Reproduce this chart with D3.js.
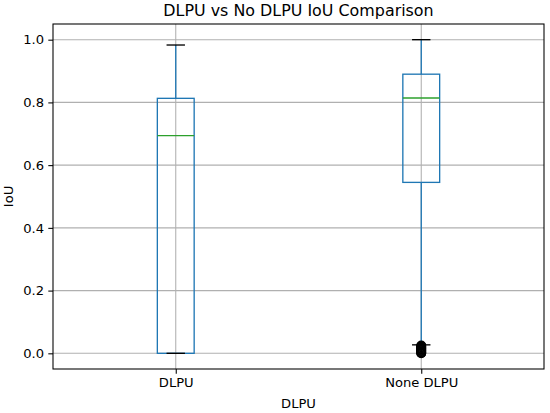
<!DOCTYPE html>
<html>
<head>
<meta charset="utf-8">
<script src="https://cdn.jsdelivr.net/npm/d3@7"></script>
<style>
  body { margin: 0; background: #fff; }
  #chart { width: 550px; height: 413px; }
  text { font-family: "DejaVu Sans", sans-serif; fill: #000; }
</style>
</head>
<body>
<div id="chart"></div>
<script>
// Data
const categories = ["DLPU", "None DLPU"];
const whiskerLow = [0.0, 0.027];
const q1 = [0.0, 0.545];
const median = [0.694, 0.814];
const q3 = [0.813, 0.89];
const whiskerHigh = [0.983, 1.0];
const outliers = [
    [],
    [0.025, 0.023, 0.021, 0.019, 0.017, 0.015, 0.013, 0.011, 0.009, 0.007, 0.005, 0.003, 0.001, 0.0]
];
const yTicks = [0.0, 0.2, 0.4, 0.6, 0.8, 1.0];

const width = 550;
const height = 413;
const margin = {top: 24, left: 53, right: 6, bottom: 44};

const svg = d3.select("#chart")
    .append("svg")
    .attr("width", width)
    .attr("height", height);

// Scales
const xScale = d3.scaleLinear()
    .domain([0.5, 2.5])
    .range([margin.left, width - margin.right]);

const yScale = d3.scaleLinear()
    .domain([-0.05, 1.05])
    .range([height - margin.bottom, margin.top]);

const boxW = xScale(0.15) - xScale(0);
const capW = boxW / 2;
const lw = 1.33;

// Grid
svg.append("g")
    .selectAll("line")
    .data(yTicks)
    .enter()
    .append("line")
        .attr("x1", margin.left)
        .attr("x2", width - margin.right)
        .attr("y1", d => yScale(d))
        .attr("y2", d => yScale(d))
        .attr("stroke", "#b0b0b0")
        .attr("stroke-width", 1.07);

svg.append("g")
    .selectAll("line")
    .data(categories)
    .enter()
    .append("line")
        .attr("x1", (d, i) => xScale(i + 1))
        .attr("x2", (d, i) => xScale(i + 1))
        .attr("y1", margin.top)
        .attr("y2", height - margin.bottom)
        .attr("stroke", "#b0b0b0")
        .attr("stroke-width", 1.07);

// Boxes
const boxes = svg.append("g")
    .selectAll("g")
    .data(categories)
    .enter()
    .append("g");

// whiskers
boxes.append("line")
    .attr("x1", (d, i) => xScale(i + 1))
    .attr("x2", (d, i) => xScale(i + 1))
    .attr("y1", (d, i) => yScale(q1[i]))
    .attr("y2", (d, i) => yScale(whiskerLow[i]))
    .attr("stroke", "#1f77b4")
    .attr("stroke-width", lw);

boxes.append("line")
    .attr("x1", (d, i) => xScale(i + 1))
    .attr("x2", (d, i) => xScale(i + 1))
    .attr("y1", (d, i) => yScale(q3[i]))
    .attr("y2", (d, i) => yScale(whiskerHigh[i]))
    .attr("stroke", "#1f77b4")
    .attr("stroke-width", lw);

boxes.append("rect")
    .attr("x", (d, i) => xScale(i + 1) - boxW / 2)
    .attr("y", (d, i) => yScale(q3[i]))
    .attr("width", boxW)
    .attr("height", (d, i) => yScale(q1[i]) - yScale(q3[i]))
    .attr("fill", "none")
    .attr("stroke", "#1f77b4")
    .attr("stroke-width", lw);

// caps
[whiskerLow, whiskerHigh].forEach(function(arr) {
    boxes.append("line")
        .attr("x1", (d, i) => xScale(i + 1) - capW / 2)
        .attr("x2", (d, i) => xScale(i + 1) + capW / 2)
        .attr("y1", (d, i) => yScale(arr[i]))
        .attr("y2", (d, i) => yScale(arr[i]))
        .attr("stroke", "#000")
        .attr("stroke-width", lw);
});

// medians
boxes.append("line")
    .attr("x1", (d, i) => xScale(i + 1) - boxW / 2)
    .attr("x2", (d, i) => xScale(i + 1) + boxW / 2)
    .attr("y1", (d, i) => yScale(median[i]))
    .attr("y2", (d, i) => yScale(median[i]))
    .attr("stroke", "#2ca02c")
    .attr("stroke-width", lw);

// fliers
boxes.each(function(d, i) {
    d3.select(this).selectAll("circle")
        .data(outliers[i])
        .enter()
        .append("circle")
            .attr("cx", xScale(i + 1))
            .attr("cy", v => yScale(v))
            .attr("r", 4.3)
            .attr("fill", "none")
            .attr("stroke", "#000")
            .attr("stroke-width", lw);
});

// Axes
const xAxis = svg.append("g")
    .attr("transform", `translate(0,${height - margin.bottom})`)
    .call(d3.axisBottom(xScale)
        .tickValues([1, 2])
        .tickFormat((d, i) => categories[i])
        .tickSize(4.7)
        .tickPadding(4.2));

const yAxis = svg.append("g")
    .attr("transform", `translate(${margin.left},0)`)
    .call(d3.axisLeft(yScale)
        .tickValues(yTicks)
        .tickFormat(d3.format(".1f"))
        .tickSize(4.7)
        .tickPadding(4.2));

[xAxis, yAxis].forEach(function(ax) {
    ax.select(".domain").remove();
    ax.selectAll("line").attr("stroke", "#000").attr("stroke-width", 1.07);
    ax.selectAll("text")
        .style("font-family", "DejaVu Sans, sans-serif")
        .style("font-size", "13.1px")
        .attr("fill", "#000");
});

// Frame
svg.append("rect")
    .attr("x", margin.left)
    .attr("y", margin.top)
    .attr("width", width - margin.left - margin.right)
    .attr("height", height - margin.top - margin.bottom)
    .attr("fill", "none")
    .attr("stroke", "#000")
    .attr("stroke-width", 1.07);

// Labels
svg.append("text")
    .attr("x", (margin.left + width - margin.right) / 2)
    .attr("y", 408)
    .attr("text-anchor", "middle")
    .style("font-size", "13.1px")
    .text("DLPU");

svg.append("text")
    .attr("transform", `translate(13,${(margin.top + height - margin.bottom) / 2}) rotate(-90)`)
    .attr("text-anchor", "middle")
    .style("font-size", "13.1px")
    .text("IoU");

svg.append("text")
    .attr("x", (margin.left + width - margin.right) / 2)
    .attr("y", 15.5)
    .attr("text-anchor", "middle")
    .style("font-size", "15.9px")
    .text("DLPU vs No DLPU IoU Comparison");
</script>
</body>
</html>
